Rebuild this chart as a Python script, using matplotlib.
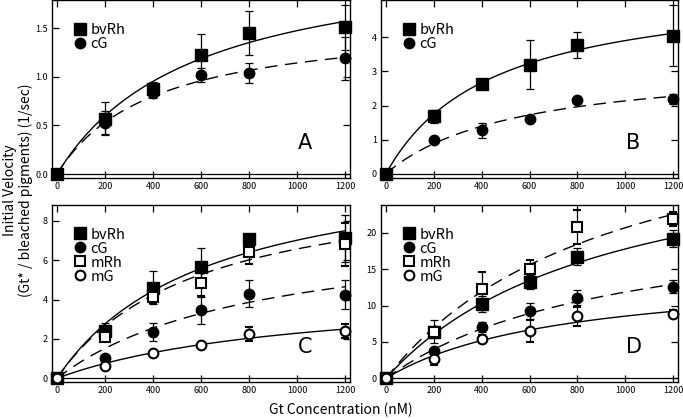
import numpy as np
import matplotlib
matplotlib.use("Agg")
import matplotlib.pyplot as plt
from matplotlib.lines import Line2D

plt.rcParams['font.family'] = ['Noto Sans CJK JP', 'DejaVu Sans']

# Gt concentration (nM)
conc = [0, 200, 400, 600, 800, 1200]

# panel A
a_bvrh = [0, 0.57, 0.88, 1.22, 1.45, 1.51]
a_bvrh_err = [0, 0.17, 0.07, 0.22, 0.23, 0.23]
a_cg = [0, 0.53, 0.83, 1.02, 1.04, 1.19]
a_cg_err = [0, 0.12, 0.05, 0.07, 0.10, 0.22]

# panel B
b_bvrh = [0, 1.68, 2.63, 3.20, 3.77, 4.05]
b_bvrh_err = [0, 0.20, 0.05, 0.72, 0.38, 0.90]
b_cg = [0, 1.00, 1.27, 1.60, 2.17, 2.20]
b_cg_err = [0, 0.05, 0.22, 0.05, 0.05, 0.15]

# panel C
c_bvrh = [0, 2.40, 4.60, 5.63, 7.05, 7.10]
c_bvrh_err = [0, 0.40, 0.85, 1.00, 0.30, 1.20]
c_cg = [0, 1.05, 2.35, 3.45, 4.30, 4.25]
c_cg_err = [0, 0.10, 0.45, 0.70, 0.70, 0.75]
c_mrh = [0, 2.10, 4.15, 4.85, 6.40, 6.80]
c_mrh_err = [0, 0.20, 0.35, 0.65, 0.60, 1.10]
c_mg = [0, 0.60, 1.30, 1.70, 2.25, 2.40]
c_mg_err = [0, 0.05, 0.10, 0.15, 0.35, 0.35]

# panel D
d_bvrh = [0, 6.4, 10.2, 13.2, 16.7, 19.2]
d_bvrh_err = [0, 1.6, 1.1, 1.0, 1.2, 1.2]
d_cg = [0, 3.7, 7.0, 9.2, 11.1, 12.6]
d_cg_err = [0, 0.5, 0.7, 1.1, 1.0, 0.9]
d_mrh = [0, 6.3, 12.2, 15.0, 20.8, 21.9]
d_mrh_err = [0, 0.5, 2.4, 1.2, 2.3, 1.0]
d_mg = [0, 2.6, 5.4, 6.5, 8.5, 8.9]
d_mg_err = [0, 0.8, 0.5, 1.5, 1.3, 0.5]

# Michaelis-Menten fit parameters (Vmax, Km)
a_fit = {'bvRh': (2.32, 573), 'cG': (1.60, 400)}
b_fit = {'bvRh': (5.65, 446), 'cG': (3.32, 554)}
c_fit = {'bvRh': (11.4, 626), 'cG': (7.9, 840), 'mRh': (10.4, 584), 'mG': (4.64, 1028)}
d_fit = {'bvRh': (34.3, 931), 'cG': (23.4, 976), 'mRh': (40.6, 964), 'mG': (14.95, 750)}

W, H = 683, 419
fig = plt.figure(figsize=(W / 100, H / 100), dpi=100)

def box(x0, y0, x1, y1):
    return [x0 / W, 1 - y1 / H, (x1 - x0) / W, (y1 - y0) / H]

mstyle = {
    'bvRh': dict(marker='s', mfc='black', mec='black', ms=8),
    'cG': dict(marker='o', mfc='black', mec='black', ms=7.5),
    'mRh': dict(marker='s', mfc='white', mec='black', ms=7, mew=1.5),
    'mG': dict(marker='o', mfc='white', mec='black', ms=7, mew=1.5),
}
lstyle = {'bvRh': '-', 'cG': '--', 'mRh': '--', 'mG': '-'}

xs = np.linspace(0, 1200, 200)

def panel(rect, series, fits, ylim, yticks, ytl, letter):
    ax = fig.add_axes(rect)
    ax.axhline(0, color='black', lw=0.9, zorder=1)
    for name, (y, err) in series.items():
        vmax, km = fits[name]
        if lstyle[name] == '--':
            ax.plot(xs, vmax * xs / (km + xs), color='black', lw=1, dashes=(9, 5.5), zorder=2)
        else:
            ax.plot(xs, vmax * xs / (km + xs), color='black', lw=1, zorder=2)
    handles = []
    for name, (y, err) in series.items():
        ax.errorbar(conc, y, yerr=err, ls='none', color='black', elinewidth=0.9,
                    capsize=3, capthick=0.9, zorder=3, clip_on=False, **mstyle[name])
        handles.append(Line2D([], [], ls='none', color='black', label=name, **mstyle[name]))
    ax.set_xlim(-21, 1221)
    ax.set_ylim(*ylim)
    ax.set_xticks([0, 200, 400, 600, 800, 1000, 1200])
    ax.set_yticks(yticks)
    ax.set_yticklabels(ytl)
    ax.tick_params(direction='in', top=True, right=True, length=5, width=0.9,
                   labelsize=6.5, pad=3)
    for s in ax.spines.values():
        s.set_linewidth(1)
    ax.legend(handles=handles, loc='upper left', frameon=False, fontsize=10.5,
              handlelength=0.6, handletextpad=0.4, labelspacing=0.0,
              borderaxespad=0.3, bbox_to_anchor=(0.045, 0.93))
    ax.text(1035, ylim[0] + 0.14 * (ylim[1] - ylim[0]), letter, fontsize=15,
            ha='center', va='bottom', family='DejaVu Sans')
    return ax

panel(box(52, 0, 350, 178), {'bvRh': (a_bvrh, a_bvrh_err), 'cG': (a_cg, a_cg_err)},
      a_fit, (-0.04, 1.79), [0, 0.5, 1.0, 1.5], ['0.0', '0.5', '1.0', '1.5'], 'A')
panel(box(381, 0, 678, 178), {'bvRh': (b_bvrh, b_bvrh_err), 'cG': (b_cg, b_cg_err)},
      b_fit, (-0.13, 5.1), [0, 1, 2, 3, 4], ['0', '1', '2', '3', '4'], 'B')
panel(box(52, 205, 350, 382), {'bvRh': (c_bvrh, c_bvrh_err), 'cG': (c_cg, c_cg_err),
                               'mRh': (c_mrh, c_mrh_err), 'mG': (c_mg, c_mg_err)},
      c_fit, (-0.19, 8.8), [0, 2, 4, 6, 8], ['0', '2', '4', '6', '8'], 'C')
panel(box(381, 205, 678, 382), {'bvRh': (d_bvrh, d_bvrh_err), 'cG': (d_cg, d_cg_err),
                                'mRh': (d_mrh, d_mrh_err), 'mG': (d_mg, d_mg_err)},
      d_fit, (-0.5, 23.8), [0, 5, 10, 15, 20], ['0', '5', '10', '15', '20'], 'D')

fig.text(341 / W, 1 - 410 / H, 'Gt Concentration (nM)', ha='center', va='center', fontsize=10)
fig.text(10 / W, 1 - 190 / H, 'Initial Velocity', rotation=90, ha='center', va='center', fontsize=10)
fig.text(26 / W, 1 - 190 / H, '(Gt* / bleached pigments) (1/sec)', rotation=90,
         ha='center', va='center', fontsize=10)

fig.savefig('out.png', dpi=100)
